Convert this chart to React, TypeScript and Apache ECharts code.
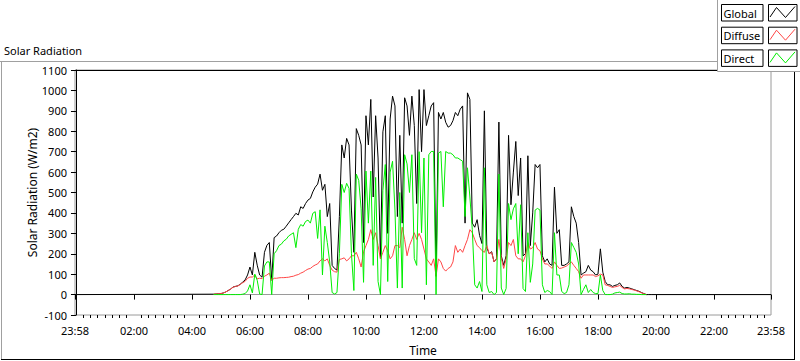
import React, { useEffect, useRef } from "react";
import * as echarts from "echarts";

// Sampling of the daytime record: first sample 04:45, one sample every 5 minutes
const startMinute = 285;
const stepMinutes = 5;

// Global radiation (W/m2), 04:45 .. 19:50
const globalValues = [
  2, 3, 4,
  5, 8, 13, 20, 27, 37, 40, 43, 51, 61, 72, 96,
  135, 96, 207, 144, 96, 85, 207, 241, 255, 70, 279, 287,
  303, 315, 320, 335, 351, 367, 382, 398, 390, 430, 422, 446,
  463, 471, 503, 526, 541, 590, 511, 540, 382, 446, 143, 128,
  120, 382, 733, 669, 765, 733, 414, 207, 813, 780, 733, 255,
  876, 733, 956, 478, 876, 669, 176, 797, 876, 300, 860, 972,
  924, 382, 780, 350, 964, 924, 780, 972, 828, 446, 1004, 700,
  1004, 828, 876, 924, 940, 90, 892, 860, 892, 844, 820, 828,
  852, 892, 876, 908, 924, 350, 988, 956, 350, 330, 367, 290,
  250, 900, 230, 200, 210, 160, 175, 845, 190, 143, 190, 780,
  440, 600, 750, 485, 669, 190, 200, 680, 240, 400, 637, 621,
  637, 190, 160, 175, 150, 143, 526, 300, 318, 143, 143, 150,
  160, 430, 382, 350, 255, 96, 105, 112, 143, 120, 112, 96,
  100, 224, 110, 64, 48, 48, 40, 45, 48, 57, 40, 32,
  35, 32, 28, 24, 20, 16, 10, 5, 0, 0, 0,
];

// Diffuse radiation (W/m2), 04:45 .. 19:40
const diffuseValues = [
  2, 3, 4,
  5, 8, 13, 20, 27, 36, 40, 42, 50, 58, 65, 80,
  86, 86, 96, 77, 80, 78, 90, 96, 105, 70, 80, 80,
  82, 83, 83, 84, 85, 88, 90, 95, 98, 105, 110, 118,
  125, 128, 138, 145, 150, 165, 175, 165, 175, 143, 120, 112,
  110, 172, 175, 180, 165, 175, 190, 190, 207, 175, 135, 210,
  240, 270, 318, 270, 303, 240, 175, 207, 240, 215, 175, 190,
  240, 240, 230, 330, 270, 190, 240, 270, 303, 270, 300, 270,
  223, 175, 160, 143, 175, 90, 175, 160, 128, 115, 128, 135,
  160, 240, 207, 223, 207, 240, 270, 318, 303, 270, 240, 230,
  215, 207, 240, 200, 207, 160, 175, 270, 180, 128, 175, 255,
  240, 270, 190, 175, 175, 160, 190, 255, 223, 230, 255, 223,
  215, 175, 150, 150, 140, 128, 160, 143, 128, 130, 135, 140,
  150, 160, 143, 128, 112, 80, 96, 96, 96, 96, 96, 88,
  92, 100, 96, 48, 45, 40, 35, 38, 40, 45, 35, 28,
  30, 28, 25, 22, 18, 14, 9, 4, 0,
];

// Direct radiation (W/m2), 04:45 .. 19:40
const directValues = [
  0, 0, 0,
  0, 0, 0, 0, 0, 0, 0, 0, 0, 2, 5, 18,
  48, 8, 100, 70, 3, 0, 140, 160, 160, 0, 200, 215,
  240, 247, 263, 271, 287, 295, 303, 230, 320, 343, 335, 358,
  365, 350, 398, 406, 275, 415, 96, 335, 255, 160, 10, 3,
  10, 200, 540, 500, 545, 520, 200, 20, 590, 560, 420, 60,
  605, 350, 605, 143, 574, 64, 0, 510, 637, 64, 600, 653,
  414, 32, 500, 32, 685, 640, 500, 685, 176, 143, 700, 303,
  669, 48, 685, 701, 701, 0, 693, 701, 430, 701, 693, 693,
  685, 669, 669, 661, 653, 382, 621, 478, 318, 48, 32, 64,
  15, 621, 48, 10, 15, 0, 10, 590, 32, 0, 30, 446,
  367, 420, 446, 200, 440, 30, 15, 303, 60, 150, 414, 422,
  414, 48, 10, 20, 15, 0, 303, 96, 96, 15, 5, 10,
  48, 255, 231, 207, 150, 0, 25, 48, 10, 25, 10, 5,
  5, 96, 20, 0, 0, 0, 2, 8, 10, 12, 5, 3,
  3, 4, 2, 2, 1, 1, 0, 0, 0,
];

// Axis range in minutes from midnight: 23:58 of the previous day .. 23:58
const axisStart = -2;
const axisEnd = 1438;
const majorTickMinutes = [-2, 120, 240, 360, 480, 600, 720, 840, 960, 1080, 1200, 1320, 1438];
const yMin = -100;
const yMax = 1100;
const yStep = 100;

const seriesNames = ["Global", "Diffuse", "Direct"];
const seriesColors = ["#000000", "#ff4646", "#00ee00"];

const FONT = "'Noto Sans', 'Open Sans', sans-serif";

function fmtMinutes(v: number): string {
  if (v < 0 || v >= 1438) return "23:58";
  const h = Math.floor(v / 60);
  const m = Math.round(v % 60);
  return String(h).padStart(2, "0") + ":" + String(m).padStart(2, "0");
}

function toPairs(values: number[]): number[][] {
  return values.map((v, i) => [startMinute + i * stepMinutes, v]);
}

export default function App() {
  const ref = useRef<HTMLDivElement>(null);

  useEffect(() => {
    if (!ref.current) return;
    const chart = echarts.init(ref.current, undefined, { renderer: "svg" });

    const minorTicks: number[] = [];
    for (let m = 15; m < axisEnd; m += 15) {
      if (m % 120 !== 0) minorTicks.push(m);
    }

    const globalData = [[axisStart, 0], ...toPairs(globalValues), [axisEnd, 0]];
    const diffuseData = toPairs(diffuseValues);
    const directData = toPairs(directValues);
    const allData = [globalData, diffuseData, directData];

    const legendItems: any[] = [];
    seriesNames.forEach((name, i) => {
      const top = 4 + i * 22.7;
      legendItems.push(
        {
          type: "rect",
          z: 101,
          shape: { x: 721.5, y: top + 0.5, width: 41.5, height: 16.5 },
          style: { fill: "#ffffff", stroke: "#000000", lineWidth: 1 },
        },
        {
          type: "text",
          z: 102,
          style: {
            text: name,
            x: 723.5,
            y: top + 9,
            fill: "#000000",
            font: "11px " + FONT,
            verticalAlign: "middle",
            align: "left",
          },
        },
        {
          type: "rect",
          z: 101,
          shape: { x: 768.5, y: top + 0.5, width: 28.5, height: 16.5 },
          style: { fill: "#ffffff", stroke: "#000000", lineWidth: 1 },
        },
        {
          type: "polyline",
          z: 102,
          shape: {
            points: [
              [770, top + 13],
              [776.5, top + 3.5],
              [785.5, top + 13.5],
              [795, top + 2.5],
            ],
          },
          style: { stroke: seriesColors[i], lineWidth: 1, fill: "none" },
        }
      );
    });

    const option: any = {
      animation: false,
      backgroundColor: "#ffffff",
      textStyle: { fontFamily: FONT },
      grid: {
        left: 75,
        right: 29,
        top: 70,
        bottom: 39,
        show: true,
        borderColor: "#9a9a9a",
        borderWidth: 1,
        backgroundColor: "#ffffff",
      },
      xAxis: [
        {
          type: "value",
          min: axisStart,
          max: axisEnd,
          position: "bottom",
          name: "Time",
          nameLocation: "middle",
          nameGap: 29,
          nameMoveOverlap: false,
          nameTextStyle: { color: "#000000", fontSize: 12, fontFamily: FONT },
          axisLine: { show: true, lineStyle: { color: "#9a9a9a", width: 1 } },
          axisTick: {
            show: true,
            customValues: majorTickMinutes,
            length: 5,
            inside: false,
            lineStyle: { color: "#000000", width: 1 },
          },
          axisLabel: {
            show: true,
            customValues: majorTickMinutes,
            formatter: (v: number) => fmtMinutes(v),
            color: "#000000",
            fontSize: 11,
            fontFamily: FONT,
            margin: 10,
          },
          splitLine: { show: false },
        },
        {
          type: "value",
          min: axisStart,
          max: axisEnd,
          position: "bottom",
          axisLine: { show: false },
          axisTick: {
            show: true,
            customValues: minorTicks,
            length: 3,
            lineStyle: { color: "#000000", width: 1 },
          },
          axisLabel: { show: false },
          splitLine: { show: false },
        },
        {
          type: "value",
          min: axisStart,
          max: axisEnd,
          position: "top",
          axisLine: { show: true, lineStyle: { color: "#000000", width: 1 } },
          axisTick: { show: false },
          axisLabel: { show: false },
          splitLine: { show: false },
        },
      ],
      yAxis: {
        type: "value",
        min: yMin,
        max: yMax,
        interval: yStep,
        name: "Solar Radiation (W/m2)",
        nameLocation: "middle",
        nameGap: 37,
        nameMoveOverlap: false,
        nameTextStyle: { color: "#000000", fontSize: 12, fontFamily: FONT },
        axisLine: { show: true, lineStyle: { color: "#000000", width: 1 } },
        axisTick: { show: true, length: 5, lineStyle: { color: "#000000", width: 1 } },
        axisLabel: {
          color: "#000000",
          fontSize: 11,
          fontFamily: FONT,
          margin: 8,
          formatter: (v: number) => String(v),
        },
        splitLine: { show: false },
      },
      series: seriesNames.map((name, i) => ({
        name,
        type: "line",
        xAxisIndex: 0,
        yAxisIndex: 0,
        data: allData[i],
        showSymbol: false,
        symbol: "none",
        lineStyle: { color: seriesColors[i], width: 1 },
        itemStyle: { color: seriesColors[i] },
        z: 2 + i,
        silent: true,
      })),
      graphic: [
        {
          type: "text",
          style: {
            text: "Solar Radiation",
            x: 4,
            y: 50,
            fill: "#000000",
            font: "11px " + FONT,
            verticalAlign: "middle",
          },
        },
        { type: "line", z: 50, shape: { x1: 0, y1: 61.5, x2: 717, y2: 61.5 }, style: { stroke: "#a0a0a0", lineWidth: 1 } },
        { type: "line", z: 50, shape: { x1: 1.5, y1: 61, x2: 1.5, y2: 359 }, style: { stroke: "#a0a0a0", lineWidth: 1 } },
        { type: "line", z: 50, shape: { x1: 1, y1: 359.5, x2: 795, y2: 359.5 }, style: { stroke: "#000000", lineWidth: 1 } },
        { type: "line", z: 50, shape: { x1: 794.5, y1: 72, x2: 794.5, y2: 360 }, style: { stroke: "#000000", lineWidth: 1 } },
        {
          type: "rect",
          z: 100,
          shape: { x: 717.5, y: -1, width: 90, height: 72.5 },
          style: { fill: "#ffffff", stroke: "#a0a0a0", lineWidth: 1 },
        },
        ...legendItems,
      ],
    };

    chart.setOption(option);
    return () => chart.dispose();
  }, []);

  return (
    <div
      ref={ref}
      style={{ position: "absolute", left: 0, top: 0, width: 800, height: 361, background: "#ffffff" }}
    />
  );
}
